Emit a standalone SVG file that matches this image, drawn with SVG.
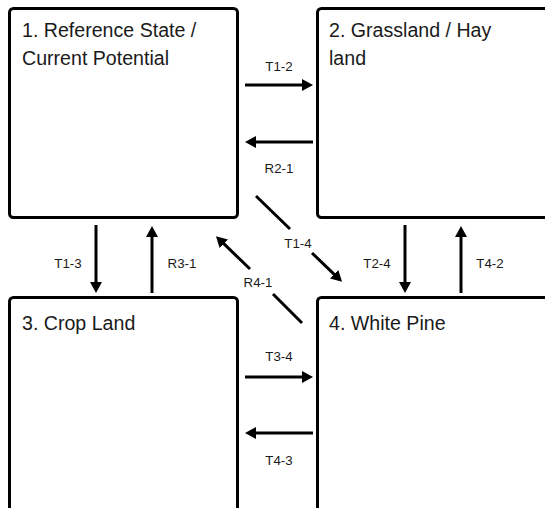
<svg xmlns="http://www.w3.org/2000/svg" width="545" height="508" viewBox="0 0 545 508">
  <style>
    .box { fill: #ffffff; stroke: #000000; stroke-width: 3; }
    .title { font-family: "Liberation Sans", Arial, sans-serif; font-size: 19.6px; fill: #1a1a1a; }
    .lbl { font-family: "Liberation Sans", Arial, sans-serif; font-size: 13.3px; fill: #1a1a1a; text-anchor: middle; }
    .conn { stroke: #000000; stroke-width: 3; fill: none; }
  </style>
  <defs>
    <marker id="arr" markerUnits="userSpaceOnUse" viewBox="0 0 11 12" markerWidth="11" markerHeight="12" refX="3" refY="6" orient="auto">
      <path d="M0,0 L11,6 L0,12 z" fill="#000000"/>
    </marker>
  </defs>
  <rect width="545" height="508" fill="#ffffff"/>
  <g id="node1">
    <rect class="box" x="9.5" y="8.5" width="228" height="209" rx="4"/>
    <text class="title" x="22" y="37">1. Reference State /</text>
    <text class="title" x="22" y="65">Current Potential</text>
  </g>
  <g id="node2">
    <rect class="box" x="317.5" y="8.5" width="240" height="209" rx="4"/>
    <text class="title" x="329" y="37">2. Grassland / Hay</text>
    <text class="title" x="329" y="65">land</text>
  </g>
  <g id="node3">
    <rect class="box" x="9.5" y="297.5" width="228" height="240" rx="4"/>
    <text class="title" x="22" y="330">3. Crop Land</text>
  </g>
  <g id="node4">
    <rect class="box" x="317.5" y="297.5" width="240" height="240" rx="4"/>
    <text class="title" x="329" y="330">4. White Pine</text>
  </g>
  <g id="connectors">
    <line class="conn" x1="245" y1="85" x2="305" y2="85" marker-end="url(#arr)"/>
    <text class="lbl" x="279" y="71">T1-2</text>
    <line class="conn" x1="313" y1="142" x2="253" y2="142" marker-end="url(#arr)"/>
    <text class="lbl" x="279" y="173">R2-1</text>
    <line class="conn" x1="245" y1="377" x2="305" y2="377" marker-end="url(#arr)"/>
    <text class="lbl" x="279" y="361">T3-4</text>
    <line class="conn" x1="313" y1="433" x2="253" y2="433" marker-end="url(#arr)"/>
    <text class="lbl" x="279" y="465">T4-3</text>
    <line class="conn" x1="96" y1="225" x2="96" y2="285" marker-end="url(#arr)"/>
    <text class="lbl" x="68" y="268">T1-3</text>
    <line class="conn" x1="152" y1="293" x2="152" y2="234" marker-end="url(#arr)"/>
    <text class="lbl" x="182" y="268">R3-1</text>
    <line class="conn" x1="405" y1="225" x2="405" y2="285" marker-end="url(#arr)"/>
    <text class="lbl" x="377" y="268">T2-4</text>
    <line class="conn" x1="461" y1="293" x2="461" y2="234" marker-end="url(#arr)"/>
    <text class="lbl" x="490" y="268">T4-2</text>
    <line class="conn" x1="256" y1="196" x2="290" y2="229"/>
    <line class="conn" x1="312" y1="253" x2="336.3" y2="276.3" marker-end="url(#arr)"/>
    <text class="lbl" x="298" y="248">T1-4</text>
    <line class="conn" x1="302" y1="323" x2="273" y2="294"/>
    <line class="conn" x1="250" y1="269" x2="221.7" y2="241.7" marker-end="url(#arr)"/>
    <text class="lbl" x="258" y="287">R4-1</text>
  </g>
</svg>
